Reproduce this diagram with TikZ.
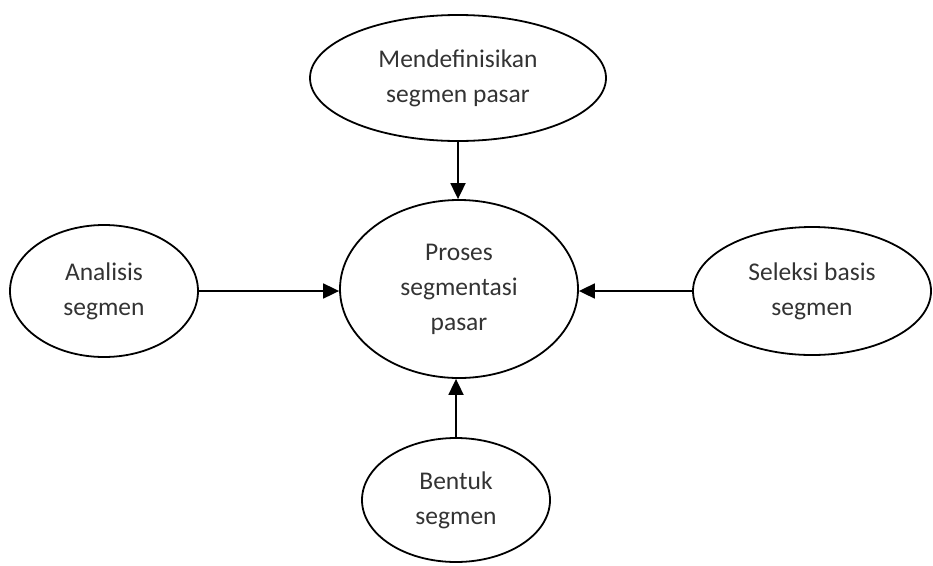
\documentclass[tikz,border=0pt]{standalone}
\usepackage{fontspec}
\setmainfont{Carlito}
\usetikzlibrary{shapes.geometric,arrows.meta}
\tikzset{
  oval/.style={ellipse, draw=black, line width=1.8pt, inner sep=0pt, align=center,
    text=black!80, font=\fontsize{25.5}{35}\selectfont},
  conn/.style={line width=1.8pt, draw=black, -{Triangle[length=16pt,width=15pt]}}
}
\begin{document}
\begin{tikzpicture}[x=1pt,y=-1pt]
\useasboundingbox (0,0) rectangle (933,565);
\node[oval, minimum width=238pt, minimum height=178pt] (C) at (459,289) {Proses\\segmentasi\\pasar};
\node[oval, minimum width=296pt, minimum height=126pt] (T) at (458,78) {Mendefinisikan\\segmen pasar};
\node[oval, minimum width=188pt, minimum height=132pt] (L) at (104,291) {Analisis\\segmen};
\node[oval, minimum width=238pt, minimum height=128pt] (R) at (812,291) {Seleksi basis\\segmen};
\node[oval, minimum width=188pt, minimum height=124pt] (B) at (456,500) {Bentuk\\segmen};
\draw[conn] (T.south) -- (T.south |- C.north);
\draw[conn] (L.east) -- (C.west |- L.east);
\draw[conn] (R.west) -- (C.east |- R.west);
\draw[conn] (B.north) -- (B.north |- C.south);
\end{tikzpicture}
\end{document}
